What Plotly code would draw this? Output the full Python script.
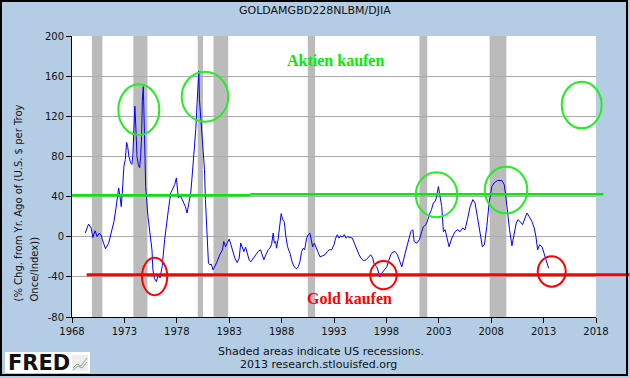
import plotly.graph_objects as go

# ---------------- data ----------------
years = [1969.26, 1969.58, 1969.83, 1969.99, 1970.2, 1970.4, 1970.6, 1970.8, 1970.9, 1971.2,
         1971.5, 1971.75, 1972.0, 1972.2, 1972.45, 1972.6, 1972.7, 1972.8, 1972.95, 1973.09,
         1973.21, 1973.31, 1973.43, 1973.59, 1973.72, 1973.81, 1973.91, 1974.0, 1974.1, 1974.2,
         1974.33, 1974.45, 1974.55, 1974.64, 1974.71, 1974.8, 1974.86, 1974.96, 1975.03, 1975.25,
         1975.48, 1975.63, 1975.72, 1975.86, 1976.05, 1976.24, 1976.4, 1976.6, 1976.84, 1977.0,
         1977.2, 1977.42, 1977.58, 1977.8, 1977.96, 1978.15, 1978.34, 1978.6, 1978.82, 1978.98,
         1979.17, 1979.33, 1979.49, 1979.65, 1979.81, 1979.94, 1980.03, 1980.1, 1980.16, 1980.22,
         1980.31, 1980.41, 1980.5, 1980.64, 1980.73, 1980.83, 1980.92, 1981.02, 1981.15, 1981.3,
         1981.46, 1981.62, 1981.84, 1982.1, 1982.36, 1982.48, 1982.65, 1982.8, 1983.0, 1983.12,
         1983.3, 1983.54, 1983.76, 1983.95, 1984.1, 1984.27, 1984.4, 1984.56, 1984.7, 1984.9,
         1985.06, 1985.28, 1985.54, 1985.76, 1985.99, 1986.15, 1986.31, 1986.5, 1986.72, 1986.88,
         1987.04, 1987.2, 1987.3, 1987.43, 1987.52, 1987.68, 1987.84, 1987.96, 1988.1, 1988.25,
         1988.41, 1988.57, 1988.8, 1989.0, 1989.2, 1989.43, 1989.59, 1989.75, 1989.9, 1990.07,
         1990.2, 1990.39, 1990.54, 1990.7, 1990.8, 1990.96, 1991.12, 1991.28, 1991.44, 1991.66,
         1991.92, 1992.14, 1992.36, 1992.55, 1992.78, 1993.0, 1993.16, 1993.32, 1993.48, 1993.64,
         1993.79, 1993.98, 1994.15, 1994.31, 1994.53, 1994.75, 1994.94, 1995.17, 1995.39, 1995.58,
         1995.8, 1996.06, 1996.28, 1996.5, 1996.7, 1996.85, 1997.08, 1997.23, 1997.4, 1997.56,
         1997.78, 1998.04, 1998.19, 1998.42, 1998.6, 1998.83, 1999.05, 1999.24, 1999.47, 1999.79,
         2000.1, 2000.33, 2000.52, 2000.65, 2000.9, 2001.15, 2001.37, 2001.53, 2001.76, 2001.9,
         2002.1, 2002.3, 2002.49, 2002.65, 2002.8, 2002.96, 2003.12, 2003.28, 2003.44, 2003.6,
         2003.76, 2003.98, 2004.24, 2004.55, 2004.78, 2005.03, 2005.29, 2005.5, 2005.73, 2005.99,
         2006.25, 2006.46, 2006.68, 2006.94, 2007.16, 2007.35, 2007.58, 2007.8, 2008.06, 2008.28,
         2008.6, 2009.02, 2009.24, 2009.4, 2009.56, 2009.75, 2009.98, 2010.2, 2010.39, 2010.55,
         2010.77, 2010.99, 2011.18, 2011.41, 2011.63, 2011.89, 2012.11, 2012.27, 2012.43, 2012.62,
         2012.85, 2013.0, 2013.17, 2013.48]
values = [3.6, 12.6, 8.6, -0.8, 6, 0, 3.6, 1, -3, -12,
          -6.4, 3.6, 15, 28.6, 48.6, 38.6, 30, 43.6, 70, 77,
          94, 90, 80, 73.6, 72, 82, 103.6, 130, 107, 80,
          72, 68.6, 80, 100, 135, 149.6, 127, 87, 50, 20,
          0, -13, -33, -41.4, -44.8, -38, -41, -30, -3, 13.6,
          27, 43.6, 47, 52, 58.6, 38.6, 41, 35, 30, 23.6,
          37, 43.6, 63.6, 83.6, 107, 133.6, 160, 165, 137, 127,
          113.6, 100, 87, 67, 37, 10, -6.4, -26.4, -28, -27.4,
          -33, -30, -25, -18, -13, -4.8, -10, -6.4, -2.4, -6.4,
          -13, -21.4, -25.8, -21.4, -6.4, -11.4, -14.8, -10.4, -16.4, -23,
          -25, -21.4, -18, -14.8, -13, -18, -23, -18, -13, -11.4,
          -8, 3.6, -6.4, -4.8, -11.4, -1.4, 10, 23, 17, 15,
          0, -10, -16.4, -25, -30, -32, -30, -25, -15, -11.4,
          -13, -1.4, 2, 3.6, -1.4, -10, -6.4, -10, -15, -20,
          -19, -18, -14.8, -13, -13, -8, -1.4, 2, -1.4, 1,
          -0.4, 2, -1.4, 0, -0.8, -1.4, -6.4, -13, -18, -21.4,
          -23.8, -23, -20, -18, -21.4, -28, -30, -35, -40, -36.4,
          -33, -30, -25, -18, -15.4, -14.8, -18, -23, -30, -16.4,
          -3, 5, 7, -4.8, -6.4, -3, 5, 10, 12, 15,
          22, 27, 34, 35, 40, 50, 40, 30, 5, 7,
          0, -10, -1.4, 5, 7, 5, 8.6, 7, 17, 30,
          37, 33.6, 20, 3.6, -10, -8, 10, 33.6, 50, 53.6,
          56, 56, 52, 40, 23.6, 7, -9, 2, 13.6, 17,
          15, 12, 17, 23.6, 20, 15, 8.6, 0, -13, -8,
          -10, -15, -20, -31.4]

recession_starts = [1969.9, 1973.85, 1980.0, 1981.5, 1990.5, 2001.15, 2007.85]
recession_ends = [1970.9, 1975.2, 1980.5, 1982.9, 1991.2, 2001.9, 2009.45]

x_ticks = [1968, 1973, 1978, 1983, 1988, 1993, 1998, 2003, 2008, 2013, 2018]
y_ticks = [-80, -40, 0, 40, 80, 120, 160, 200]

# hand-drawn markings (data units: year, value)
green_levels = [(1968.0, 1985.0, 41.2), (1985.0, 2018.7, 42.2)]
red_level = (1969.4, 2021.2, -38.0)
green_circles = [(1972.42, 1976.33, 101.4, 151.8), (1978.47, 1982.91, 114.6, 164.4),
                 (2014.73, 2018.54, 108.0, 154.5), (2000.8, 2004.77, 19.4, 64.2),
                 (2007.39, 2011.44, 23.3, 69.8)]
red_circles = [(1974.68, 1977.09, -58.4, -20.9), (1996.46, 1998.98, -52.4, -24.2),
               (2012.44, 2015.11, -49.8, -19.5)]

# ---------------- layout helpers ----------------
W, H = 630, 378
ML, MR, MT, MB = 72, 34, 36, 61
PW, PH = W - ML - MR, H - MT - MB
X0, X1 = 1968, 2018
Y0, Y1 = -80, 200
BG = "#B4CDE4"


def dx(year):
    return (year - X0) / (X1 - X0)


def dy(v):
    return (v - Y0) / (Y1 - Y0)


def ppx(px):
    return (px - ML) / PW


def ppy(py):
    return (H - MB - py) / PH


fig = go.Figure()
fig.add_trace(go.Scatter(x=years, y=values, mode="lines",
                         line=dict(color="#0000FF", width=1), hoverinfo="skip",
                         showlegend=False))

shapes = []
for s, e in zip(recession_starts, recession_ends):
    shapes.append(dict(type="rect", xref="x", yref="paper", x0=s, x1=e, y0=0, y1=1,
                       fillcolor="#BBBBBB", line=dict(width=0), layer="between"))

for x0, x1, v in green_levels:
    shapes.append(dict(type="line", xref="paper", yref="paper", x0=dx(x0), x1=dx(x1),
                       y0=dy(v), y1=dy(v), line=dict(color="#00EE00", width=2.5)))
shapes.append(dict(type="line", xref="paper", yref="paper", x0=dx(red_level[0]),
                   x1=dx(red_level[1]), y0=dy(red_level[2]), y1=dy(red_level[2]),
                   line=dict(color="#FF0000", width=3)))
for x0, x1, y0, y1 in green_circles:
    shapes.append(dict(type="circle", xref="paper", yref="paper", x0=dx(x0), x1=dx(x1),
                       y0=dy(y0), y1=dy(y1), line=dict(color="#22EE22", width=2)))
for x0, x1, y0, y1 in red_circles:
    shapes.append(dict(type="circle", xref="paper", yref="paper", x0=dx(x0), x1=dx(x1),
                       y0=dy(y0), y1=dy(y1), line=dict(color="#FF0000", width=2)))

# FRED logo box and small icon
shapes.append(dict(type="rect", xref="paper", yref="paper", x0=ppx(5), x1=ppx(90),
                   y0=ppy(373), y1=ppy(352), fillcolor="white", line=dict(width=0)))
shapes.append(dict(type="rect", xref="paper", yref="paper", x0=ppx(72), x1=ppx(88),
                   y0=ppy(371), y1=ppy(355), fillcolor="#EEEEEE", line=dict(width=0)))
shapes.append(dict(type="path", xref="paper", yref="paper",
                   path="M %f %f L %f %f L %f %f L %f %f" % (ppx(73), ppy(368), ppx(77), ppy(364),
                                                           ppx(81), ppy(366), ppx(87), ppy(358)),
                   line=dict(color="#7FB070", width=1)))
shapes.append(dict(type="path", xref="paper", yref="paper",
                   path="M %f %f L %f %f L %f %f L %f %f" % (ppx(73), ppy(370), ppx(78), ppy(366),
                                                           ppx(82), ppy(368), ppx(87), ppy(362)),
                   line=dict(color="#8FA0C0", width=1)))
# outer border
shapes.append(dict(type="rect", xref="paper", yref="paper", x0=ppx(1), x1=ppx(627),
                   y0=ppy(375), y1=ppy(1), line=dict(color="black", width=2)))

font = "DejaVu Sans, Verdana, sans-serif"


def label(text, x, y, size, color="#111111", family=font, xanchor="center", **kw):
    return dict(text=text, xref="paper", yref="paper", x=x, y=y, xanchor=xanchor,
                yanchor=kw.pop("yanchor", "middle"), showarrow=False,
                font=dict(family=family, size=size, color=color), **kw)


annotations = [
    label("GOLDAMGBD228NLBM/DJIA", ppx(315), ppy(10), 11),
    label("(% Chg. from Yr. Ago of (U.S. $ per Troy", ppx(18), ppy(304), 10,
          yanchor="bottom", textangle=-90),
    label("Once/Index))", ppx(34), ppy(304), 10, yanchor="bottom", textangle=-90),
    label("Shaded areas indicate US recessions.", ppx(321), ppy(351), 11),
    label("2013 research.stlouisfed.org", ppx(318), ppy(364), 11),
    label("<b>FRED</b>", ppx(6), ppy(363), 21, family="DejaVu Sans, sans-serif",
          xanchor="left"),
    label("<b>Aktien kaufen</b>", dx(1993.1), dy(176), 16, color="#00EE00",
          family="Liberation Serif, serif"),
    label("<b>Gold kaufen</b>", dx(1994.5), dy(-62), 16, color="#FF0000",
          family="Liberation Serif, serif"),
]

fig.update_layout(
    width=W, height=H,
    margin=dict(l=ML, r=MR, t=MT, b=MB, pad=0),
    paper_bgcolor=BG, plot_bgcolor="white",
    shapes=shapes, annotations=annotations,
    showlegend=False,
    xaxis=dict(range=[X0, X1], tickvals=x_ticks, ticktext=[str(t) for t in x_ticks],
               showgrid=False, zeroline=False, showline=True, linecolor="black", linewidth=1,
               ticks="outside", ticklen=5, tickcolor="black",
               tickfont=dict(family=font, size=10, color="#111111")),
    yaxis=dict(range=[Y0, Y1], tickvals=y_ticks, ticktext=[str(t) for t in y_ticks],
               showgrid=True, gridcolor="#AAAAAA", gridwidth=1, zeroline=False,
               showline=True, linecolor="black", linewidth=1,
               ticks="outside", ticklen=5, tickcolor="black",
               tickfont=dict(family=font, size=10, color="#111111")),
)

fig.write_html("out.html", config={"displayModeBar": False},
               post_script="document.body.style.margin='0';document.body.style.padding='0';"
                           "document.body.style.overflow='hidden';")
